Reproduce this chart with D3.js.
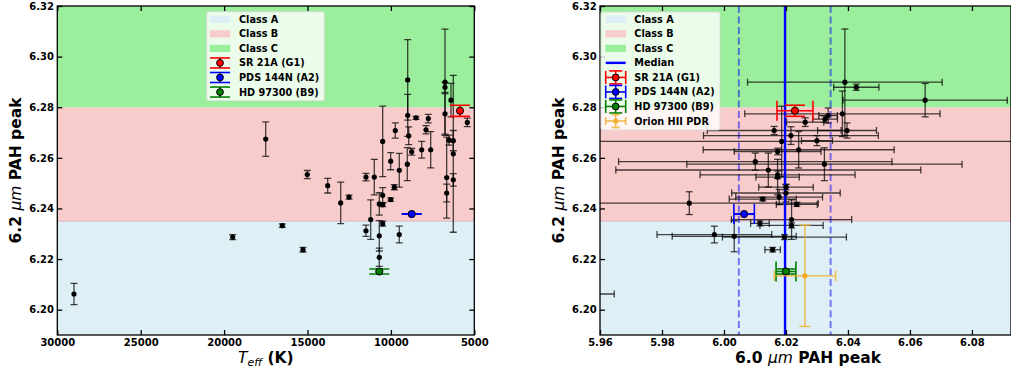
<!DOCTYPE html>
<html><head><meta charset="utf-8">
<script src="https://cdn.jsdelivr.net/npm/d3@7"></script>
<style>body{margin:0;background:#fff}svg{display:block}</style>
</head><body>
<svg id="c" width="1011" height="372"></svg>
<script>
// ---------------- data ----------------
const classNames = ["Class A", "Class B", "Class C"];
const classLow  = [6.19, 6.235, 6.28];
const classHigh = [6.235, 6.28, 6.32];
const classColors = ["#deeff5", "#f9cccc", "#9bee9b"];

const yTicks = [6.20, 6.22, 6.24, 6.26, 6.28, 6.30, 6.32];
const teffTicks = [30000, 25000, 20000, 15000, 10000, 5000];
const peak60Ticks = [5.96, 5.98, 6.00, 6.02, 6.04, 6.06, 6.08];

// left panel: Teff vs 6.2 peak
const leftTeff = [29000, 19485, 17506, 16511, 15270, 15012, 13789, 13010, 12513, 11494, 11494, 11211, 10996,
  10696, 10696, 10696, 10492, 10492, 10492, 10492, 10013, 10013, 9737, 9797, 9497, 9497, 8993, 8993, 8933, 9017,
  8753, 8496, 8155, 7896, 7758, 7614, 6757, 6757, 6757, 6656, 6656, 6518, 6398, 6260, 6260, 6260, 5420];
const leftPeak = [6.2062, 6.2287, 6.2674, 6.2332, 6.2237, 6.2534, 6.2490, 6.2422, 6.2445, 6.2524, 6.2312, 6.2356, 6.2524,
  6.2418, 6.2292, 6.2207, 6.2665, 6.2452, 6.2415, 6.2340, 6.2587, 6.2435, 6.2708, 6.2484, 6.2551, 6.2297, 6.2908, 6.2768, 6.2687, 6.2575,
  6.2624, 6.2758, 6.2632, 6.2711, 6.2755, 6.2632, 6.2899, 6.2879, 6.2774, 6.2522, 6.2461, 6.2670, 6.2828, 6.2668, 6.2616, 6.2513, 6.2740];
const leftPeakErr = [0.0042, 0.0010, 0.0068, 0.0007, 0.0009, 0.0016, 0.0029, 0.0082, 0.0008, 0.0015, 0.0022, 0.0078, 0.0070,
  0.0044, 0.0060, 0.0036, 0.0139, 0.0030, 0.0008, 0.0010, 0.0034, 0.0007, 0.0030, 0.0010, 0.0067, 0.0033, 0.0159, 0.0083, 0.0035, 0.0065,
  0.0013, 0.0006, 0.0033, 0.0016, 0.0017, 0.0072, 0.0210, 0.0020, 0.0080, 0.0160, 0.0035, 0.0020, 0.0066, 0.0040, 0.0310, 0.0025, 0.0017];

// right panel: 6.0 peak vs 6.2 peak
const rightPeak60 = [6.0390, 6.0427, 6.0649, 6.0382, 6.0336, 6.0326, 6.0262, 6.0162, 6.0397, 6.0216, 6.0300, 6.0186,
  6.0241, 6.0173, 6.0101, 6.0324, 6.0143, 6.0173, 6.0173, 6.0200, 6.0200, 6.0178, 6.0125, 5.9888, 6.0235, 6.0218,
  6.0116, 6.0218, 5.9969, 6.0033, 6.0195, 6.0157, 5.9500];
const rightPeak60Err = [0.0314, 0.0073, 0.0265, 0.0315, 0.0030, 0.0040, 0.0060, 0.0216, 0.0095, 0.0282, 0.0050, 0.0900,
  0.0308, 0.0140, 0.0441, 0.0444, 0.0492, 0.0250, 0.0070, 0.0088, 0.0175, 0.0140, 0.0108, 0.0416, 0.0066, 0.0194,
  0.0030, 0.0102, 0.0185, 0.0200, 0.0200, 0.0025, 0.0146];
const rightPeak62 = [6.2899, 6.2879, 6.2828, 6.2774, 6.2767, 6.2753, 6.2741, 6.2708, 6.2708, 6.2688, 6.2668, 6.2665,
  6.2632, 6.2625, 6.2585, 6.2575, 6.2552, 6.2533, 6.2524, 6.2484, 6.2461, 6.2445, 6.2437, 6.2421, 6.2416, 6.2356,
  6.2341, 6.2333, 6.2297, 6.2290, 6.2287, 6.2237, 6.2062];
const rightPeak62Err = [0.0210, 0.0012, 0.0066, 0.0090, 0.0030, 0.0013, 0.0017, 0.0016, 0.0030, 0.0035, 0.0020, 0.0139,
  0.0072, 0.0013, 0.0034, 0.0065, 0.0067, 0.0015, 0.0070, 0.0010, 0.0035, 0.0030, 0.0007, 0.0045, 0.0008, 0.0078,
  0.0010, 0.0010, 0.0033, 0.0061, 0.0010, 0.0009, 0.0042];

// highlighted sources
const specialNames = ["SR 21A (G1)", "PDS 144N (A2)", "HD 97300 (B9)"];
const specialColors = ["#ff0000", "#0000ff", "#008000"];
const specialTeff = [5858, 8753, 10696];
const specialPeak62 = [6.2786, 6.2378, 6.2151];
const specialPeak62Err = [0.0022, 0.0001, 0.0010];
const specialPeak60 = [6.0229, 6.0065, 6.0200];
const specialPeak60Err = [0.0058, 0.0033, 0.0032];

const orionName = ["Orion HII PDR"];
const orionPeak60 = [6.0261];
const orionPeak60Err = [0.0099];
const orionPeak62 = [6.2134];
const orionPeak62Err = [0.0200];

const medianPeak60 = [6.0197];
const medianBand = [6.0048, 6.0344];

// ---------------- drawing ----------------
const svg = d3.select("#c");
const FONT = "DejaVu Sans";
const yTop = 6, yBot = 335;
const y = d3.scaleLinear().domain([6.19, 6.32]).range([yBot, yTop]);
const xL = d3.scaleLinear().domain([30000, 5000]).range([57.3, 474.3]);
const xR = d3.scaleLinear().domain([5.96, 6.0926]).range([600, 1011]);

const defs = svg.append("defs");
function clip(id, x0, x1) {
  defs.append("clipPath").attr("id", id).append("rect")
    .attr("x", x0).attr("y", yTop).attr("width", x1 - x0).attr("height", yBot - yTop);
}
clip("clipL", xL.range()[0], xL.range()[1]);
clip("clipR", xR.range()[0], xR.range()[1]);

function bands(g, x) {
  const [x0, x1] = x.range();
  g.selectAll("rect.band").data(classNames).join("rect").attr("class", "band")
    .attr("x", x0).attr("width", x1 - x0)
    .attr("y", (d, i) => y(classHigh[i])).attr("height", (d, i) => y(classLow[i]) - y(classHigh[i]))
    .attr("fill", (d, i) => classColors[i]);
  g.selectAll("line.bedge").data([classHigh[0]]).join("line").attr("class", "bedge")
    .attr("x1", x0).attr("x2", x1).attr("y1", d => y(d)).attr("y2", d => y(d))
    .attr("stroke", "#d8b9c6").attr("stroke-width", 1);
}

// generic error bar drawer
function errbars(g, pts, x, o) {
  const col = o.color, lw = o.lw || 1.3, cap = o.cap || 3.5, op = o.opacity == null ? 1 : o.opacity;
  pts.forEach(p => {
    const cx = x(p.x), cy = y(p.y);
    const gg = g.append("g").attr("stroke", col).attr("stroke-width", lw).attr("stroke-opacity", op);
    if (p.xe != null) {
      const a = x(p.x - p.xe), b = x(p.x + p.xe);
      gg.append("line").attr("x1", a).attr("x2", b).attr("y1", cy).attr("y2", cy);
      [a, b].forEach(v => gg.append("line").attr("x1", v).attr("x2", v).attr("y1", cy - cap).attr("y2", cy + cap));
    }
    if (p.ye != null) {
      const a = y(p.y - p.ye), b = y(p.y + p.ye);
      gg.append("line").attr("x1", cx).attr("x2", cx).attr("y1", a).attr("y2", b);
      [a, b].forEach(v => gg.append("line").attr("x1", cx - cap).attr("x2", cx + cap).attr("y1", v).attr("y2", v));
    }
  });
}
function markers(g, pts, x, fill, r, edge) {
  g.selectAll(null).data(pts).join("circle")
    .attr("cx", p => x(p.x)).attr("cy", p => y(p.y)).attr("r", r)
    .attr("fill", fill).attr("stroke", edge || "none").attr("stroke-width", edge ? 1 : 0);
}

function axes(g, x, ticks, fmt, showRight) {
  const [x0, x1] = x.range();
  const gb = g.append("g").attr("transform", `translate(0,${yBot})`)
    .call(d3.axisBottom(x).tickValues(ticks).tickFormat(fmt).tickSizeInner(-5).tickSizeOuter(0).tickPadding(3.5));
  const gt = g.append("g").attr("transform", `translate(0,${yTop})`)
    .call(d3.axisTop(x).tickValues(ticks).tickFormat("").tickSizeInner(-5).tickSizeOuter(0));
  const gl = g.append("g").attr("transform", `translate(${x0},0)`)
    .call(d3.axisLeft(y).tickValues(yTicks).tickFormat(d3.format(".2f")).tickSizeInner(-5).tickSizeOuter(0).tickPadding(3.3));
  const all = [gb, gt, gl];
  if (showRight) {
    all.push(g.append("g").attr("transform", `translate(${x1},0)`)
      .call(d3.axisRight(y).tickValues(yTicks).tickFormat("").tickSizeInner(-5).tickSizeOuter(0)));
  }
  all.forEach(a => {
    a.select(".domain").remove();
    a.selectAll(".tick line").attr("stroke", "#000").attr("stroke-width", 1.3);
    a.selectAll(".tick text").attr("font-family", FONT).attr("font-weight", "bold").attr("font-size", 10).attr("fill", "#000");
  });
  g.append("rect").attr("x", x0).attr("y", yTop).attr("width", x1 - x0).attr("height", yBot - yTop)
    .attr("fill", "none").attr("stroke", "#000").attr("stroke-width", 1.3);
}

function yLabel(g, cx) {
  const t = g.append("text").attr("transform", `translate(${cx},${(yTop + yBot) / 2}) rotate(-90)`)
    .attr("text-anchor", "middle").attr("dominant-baseline", "central")
    .attr("font-family", FONT).attr("font-size", 15.5).attr("font-weight", "bold").attr("fill", "#000");
  t.append("tspan").text("6.2 ");
  t.append("tspan").attr("font-style", "italic").attr("font-weight", "normal").text("μm");
  t.append("tspan").text(" PAH peak");
}

// ---------- LEFT PANEL ----------
const L = svg.append("g");
bands(L.append("g"), xL);
const Ld = L.append("g").attr("clip-path", "url(#clipL)");
const leftPts = leftTeff.map((t, i) => ({x: t, y: leftPeak[i], ye: leftPeakErr[i]}));
errbars(Ld, leftPts, xL, {color: "#000", opacity: 0.72, cap: 3.5});
markers(Ld, leftPts, xL, "#000", 2.6);
specialNames.forEach((n, i) => {
  const p = [{x: specialTeff[i], y: specialPeak62[i], ye: specialPeak62Err[i]}];
  errbars(Ld, p, xL, {color: specialColors[i], lw: 1.6, cap: 10});
  markers(Ld, p, xL, specialColors[i], 3.6, "#000");
});
axes(L, xL, teffTicks, d3.format("d"), true);
yLabel(L, 16);
{
  const t = L.append("text").attr("x", (xL.range()[0] + xL.range()[1]) / 2).attr("y", 363)
    .attr("text-anchor", "middle").attr("font-family", FONT).attr("font-size", 15.5).attr("fill", "#000");
  t.append("tspan").attr("font-style", "italic").text("T");
  t.append("tspan").attr("font-style", "italic").attr("font-size", 11).attr("dy", 3).text("eff");
  t.append("tspan").attr("dy", -3).attr("font-weight", "bold").text(" (K)");
}

// ---------- RIGHT PANEL ----------
const R = svg.append("g");
bands(R.append("g"), xR);
const Rd = R.append("g").attr("clip-path", "url(#clipR)");
// median and spread
Rd.selectAll("line.band").data(medianBand).join("line").attr("class", "band")
  .attr("x1", d => xR(d)).attr("x2", d => xR(d)).attr("y1", yTop).attr("y2", yBot)
  .attr("stroke", "#0000ff").attr("stroke-opacity", 0.5).attr("stroke-width", 2).attr("stroke-dasharray", "7,3.5");
const rightPts = rightPeak60.map((v, i) => ({x: v, y: rightPeak62[i], xe: rightPeak60Err[i], ye: rightPeak62Err[i]}));
errbars(Rd, rightPts, xR, {color: "#000", opacity: 0.72, cap: 3.5});
Rd.selectAll("line.med").data(medianPeak60).join("line").attr("class", "med")
  .attr("x1", d => xR(d)).attr("x2", d => xR(d)).attr("y1", yTop).attr("y2", yBot)
  .attr("stroke", "#0000ff").attr("stroke-width", 2.4);
markers(Rd, rightPts, xR, "#000", 2.6);
specialNames.forEach((n, i) => {
  const p = [{x: specialPeak60[i], y: specialPeak62[i], xe: specialPeak60Err[i], ye: specialPeak62Err[i]}];
  errbars(Rd, p, xR, {color: specialColors[i], lw: 1.6, cap: 10});
  markers(Rd, p, xR, specialColors[i], 3.6, "#000");
});
{
  const p = orionPeak60.map((v, i) => ({x: v, y: orionPeak62[i], xe: orionPeak60Err[i], ye: orionPeak62Err[i]}));
  errbars(Rd, p, xR, {color: "#f0b030", opacity: 0.8, lw: 1.5, cap: 5.5});
  markers(Rd, p, xR, "#f7a81e", 2.6);
}
axes(R, xR, peak60Ticks, d3.format(".2f"), false);
yLabel(R, 559);
{
  const t = R.append("text").attr("x", 808).attr("y", 363)
    .attr("text-anchor", "middle").attr("font-family", FONT).attr("font-size", 15.5).attr("font-weight", "bold").attr("fill", "#000");
  t.append("tspan").text("6.0 ");
  t.append("tspan").attr("font-style", "italic").attr("font-weight", "normal").text("μm");
  t.append("tspan").text(" PAH peak");
}

// ---------- LEGENDS ----------
function legend(g, box, rows, iconX, textX) {
  g.append("rect").attr("x", box[0]).attr("y", box[1]).attr("width", box[2]).attr("height", box[3])
    .attr("rx", 2).attr("fill", "#ffffff").attr("fill-opacity", 0.8).attr("stroke", "#d8d8d8").attr("stroke-width", 0.8);
  rows.forEach(r => {
    const cy = r.y;
    if (r.kind === "patch") {
      g.append("rect").attr("x", iconX - 10.3).attr("y", cy - 3.6).attr("width", 20.6).attr("height", 7.2).attr("fill", r.color);
    } else if (r.kind === "line") {
      g.append("line").attr("x1", iconX - 10).attr("x2", iconX + 10).attr("y1", cy).attr("y2", cy)
        .attr("stroke", r.color).attr("stroke-width", 2.4);
    } else if (r.kind === "capY") {
      const gg = g.append("g").attr("stroke", r.color).attr("stroke-width", 1.6);
      [-5, 5].forEach(d => gg.append("line").attr("x1", iconX - 10).attr("x2", iconX + 10).attr("y1", cy + d).attr("y2", cy + d));
      g.append("line").attr("x1", iconX).attr("x2", iconX).attr("y1", cy - 5).attr("y2", cy + 5).attr("stroke", "#000").attr("stroke-width", 1);
      g.append("circle").attr("cx", iconX).attr("cy", cy).attr("r", 3.4).attr("fill", r.color).attr("stroke", "#000").attr("stroke-width", 1);
    } else if (r.kind === "cross") {
      const gg = g.append("g").attr("stroke", r.color).attr("stroke-width", r.lw || 1.6).attr("stroke-opacity", r.op || 1);
      const hx = 10, hy = 6.5, c = r.cap || 6.5;
      gg.append("line").attr("x1", iconX - hx).attr("x2", iconX + hx).attr("y1", cy).attr("y2", cy);
      gg.append("line").attr("x1", iconX).attr("x2", iconX).attr("y1", cy - hy).attr("y2", cy + hy);
      [-hx, hx].forEach(d => gg.append("line").attr("x1", iconX + d).attr("x2", iconX + d).attr("y1", cy - c).attr("y2", cy + c));
      [-hy, hy].forEach(d => gg.append("line").attr("x1", iconX - c).attr("x2", iconX + c).attr("y1", cy + d).attr("y2", cy + d));
      g.append("circle").attr("cx", iconX).attr("cy", cy).attr("r", r.r || 3.4).attr("fill", r.color)
        .attr("stroke", r.edge ? "#000" : "none").attr("stroke-width", 1);
    }
    g.append("text").attr("x", textX).attr("y", cy).attr("dominant-baseline", "central")
      .attr("font-family", FONT).attr("font-weight", "bold").attr("font-size", 9.7).attr("fill", "#000").text(r.label);
  });
}
const stepL = 14.55;
const leftRows = classNames.map((n, i) => ({kind: "patch", color: classColors[i], label: n}))
  .concat(specialNames.map((n, i) => ({kind: "capY", color: specialColors[i], label: n})));
leftRows.forEach((r, i) => r.y = 19.3 + i * stepL);
legend(svg.append("g"), [206.7, 11.7, 117.6, 89], leftRows, 220, 239);

const rightRows = classNames.map((n, i) => ({kind: "patch", color: classColors[i], label: n}))
  .concat([{kind: "line", color: "#0000ff", label: "Median"}])
  .concat(specialNames.map((n, i) => ({kind: "cross", color: specialColors[i], label: n, edge: true})))
  .concat(orionName.map(n => ({kind: "cross", color: "#f0b030", label: n, op: 0.85, r: 2.6, cap: 4})));
rightRows.forEach((r, i) => r.y = 19.3 + i * 14.53);
legend(svg.append("g"), [601, 12, 119, 118], rightRows, 615.7, 634.3);
</script>
</body></html>
